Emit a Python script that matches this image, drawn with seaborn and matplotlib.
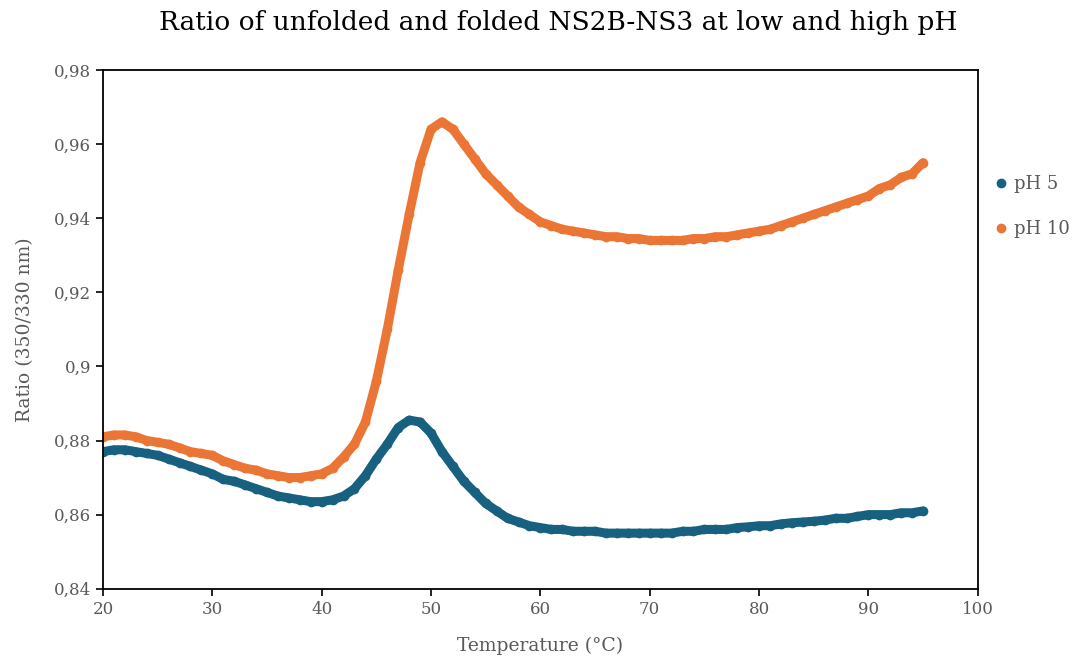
import numpy as np
import pandas as pd
import matplotlib
matplotlib.use("Agg")
import matplotlib.pyplot as plt
import seaborn as sns

temperature = list(range(20, 96))

ph5 = [0.877, 0.8775, 0.8775, 0.877, 0.8765, 0.876, 0.875, 0.874, 0.873, 0.872,
       0.871, 0.8695, 0.869, 0.868, 0.867, 0.866, 0.865, 0.8645, 0.864, 0.8635,
       0.8635, 0.864, 0.865, 0.867, 0.8705, 0.875, 0.879, 0.8835, 0.8855, 0.885,
       0.882, 0.877, 0.873, 0.869, 0.866, 0.863, 0.861, 0.859, 0.858, 0.857,
       0.8565, 0.856, 0.856, 0.8555, 0.8555, 0.8555, 0.855, 0.855, 0.855, 0.855,
       0.855, 0.855, 0.855, 0.8555, 0.8555, 0.856, 0.856, 0.856, 0.8565, 0.8567,
       0.857, 0.857, 0.8575, 0.8578, 0.858, 0.8582, 0.8585, 0.859, 0.859, 0.8595,
       0.860, 0.860, 0.860, 0.8605, 0.8605, 0.861]

ph10 = [0.881, 0.8815, 0.8815, 0.881, 0.880, 0.8795, 0.879, 0.878, 0.877, 0.8765,
        0.876, 0.8745, 0.8735, 0.8725, 0.872, 0.871, 0.8705, 0.870, 0.870, 0.8705,
        0.871, 0.8725, 0.8755, 0.879, 0.885, 0.896, 0.910, 0.926, 0.941, 0.955,
        0.964, 0.966, 0.964, 0.960, 0.956, 0.952, 0.949, 0.946, 0.943, 0.941,
        0.939, 0.938, 0.937, 0.9365, 0.936, 0.9355, 0.935, 0.935, 0.9345, 0.9345,
        0.934, 0.934, 0.934, 0.934, 0.9345, 0.9345, 0.935, 0.935, 0.9355, 0.936,
        0.9365, 0.937, 0.938, 0.939, 0.940, 0.941, 0.942, 0.943, 0.944, 0.945,
        0.946, 0.948, 0.949, 0.951, 0.952, 0.955]

series_names = ["pH 5", "pH 10"]
colors = {"pH 5": "#17607f", "pH 10": "#ea7535"}

df = pd.concat([
    pd.DataFrame({"Temperature": temperature, "Ratio": ph5, "Series": "pH 5"}),
    pd.DataFrame({"Temperature": temperature, "Ratio": ph10, "Series": "pH 10"}),
])

sns.set_theme(style="white")
plt.rcParams['font.family'] = ['DejaVu Serif']
grey = "#595959"

fig = plt.figure(figsize=(10.84, 6.6), dpi=100)
ax = fig.add_axes([0.095, 0.108, 0.807, 0.786])

for name in series_names:
    sub = df[df["Series"] == name]
    sns.lineplot(data=sub, x="Temperature", y="Ratio", ax=ax, color=colors[name],
                 linewidth=6.5, marker="o", markersize=7, markeredgewidth=0,
                 solid_capstyle="round", solid_joinstyle="round",
                 label=name, legend=False)

ax.set_xlim(20, 100)
ax.set_ylim(0.84, 0.98)
ax.set_xticks(np.arange(20, 101, 10))
ax.set_yticks(np.arange(0.84, 0.981, 0.02))
ax.set_yticklabels(["0,84", "0,86", "0,88", "0,9", "0,92", "0,94", "0,96", "0,98"])
ax.set_xticklabels([str(v) for v in range(20, 101, 10)])

for s in ax.spines.values():
    s.set_color("black")
    s.set_linewidth(1.3)
ax.tick_params(axis="both", direction="out", length=5, width=1.2, color="black",
               labelcolor=grey, labelsize=12, bottom=True, left=True)

ax.set_xlabel("Temperature (°C)", color=grey, fontsize=13.5, labelpad=14)
ax.set_ylabel("Ratio (350/330 nm)", color=grey, fontsize=13.5, labelpad=14)
fig.suptitle("Ratio of unfolded and folded NS2B-NS3 at low and high pH",
             fontsize=19, color="black", x=0.515, y=0.985)

handles = [plt.Line2D([], [], marker="o", linestyle="", color=colors[n], markersize=6)
           for n in series_names]
leg = fig.legend(handles, series_names, loc="upper left", bbox_to_anchor=(0.915, 0.735),
                 frameon=False, fontsize=13, handletextpad=0.2, labelspacing=1.5,
                 handlelength=1.0, borderpad=0.0, borderaxespad=0.0)
for t in leg.get_texts():
    t.set_color(grey)

fig.savefig("out.png", dpi=100)
